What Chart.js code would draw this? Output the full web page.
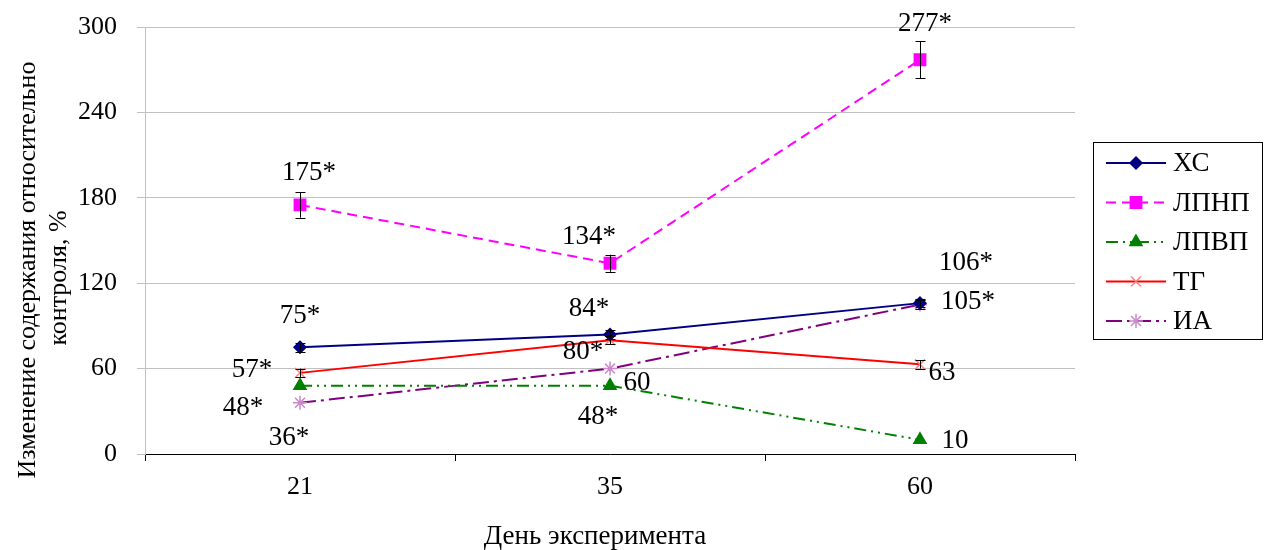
<!DOCTYPE html>
<html lang="ru">
<head>
<meta charset="UTF-8">
<title>Изменение содержания относительно контроля</title>
<script src="https://cdn.jsdelivr.net/npm/chart.js@4/dist/chart.umd.min.js"></script>
<style>
*{margin:0;padding:0}
body{background:#fff;width:1267px;height:550px;overflow:hidden}
</style>
</head>
<body>
<canvas id="c" width="1267" height="550"></canvas>
<script>
// data
var days = ["21", "35", "60"];
var yTicks = [0, 60, 120, 180, 240, 300];

var xc = [75, 84, 106];        // ХС
var ldl = [175, 134, 277];     // ЛПНП
var hdl = [48, 48, 10];        // ЛПВП
var tg = [57, 80, 63];         // ТГ
var ia = [36, 60, 105];        // ИА

var xcErr = [3, 3, 3];
var ldlErr = [9, 6, 13];
var hdlErr = [0, 0, 0];
var tgErr = [3, 3, 3];
var iaErr = [0, 0, 3];

var xcLabels = ["75*", "84*", "106*"];
var ldlLabels = ["175*", "134*", "277*"];
var hdlLabels = ["48*", "48*", "10"];
var tgLabels = ["57*", "80*", "63"];
var iaLabels = ["36*", "60", "105*"];

// label placement relative to the marker, px
var xcOff = [[0,-31],[-21,-26],[46,-40]];
var ldlOff = [[9,-32],[-21,-26],[5,-36]];
var hdlOff = [[-57,22],[-12,31],[35,1]];
var tgOff = [[-48,-3],[-27,12],[22,9]];
var iaOff = [[-11,35],[27,14],[48,-3]];

var FONT = "Liberation Serif, Times New Roman, serif";

function ds(label, data, color, dash, style, radius, ptColor, err, txt, off) {
  return {
    label: label, data: data, borderColor: color, borderWidth: 2, borderDash: dash,
    pointStyle: style, pointRadius: radius, pointBackgroundColor: ptColor,
    pointBorderColor: ptColor, pointBorderWidth: 1.5, tension: 0,
    errs: err, txt: txt, off: off
  };
}

var sets = [
  ds("ХС", xc, "#000080", [], "rectRot", 6, "#000080", xcErr, xcLabels, xcOff),
  ds("ЛПНП", ldl, "#FF00FF", [10, 6], "rect", 8, "#FF00FF", ldlErr, ldlLabels, ldlOff),
  ds("ЛПВП", hdl, "#008000", [12, 5, 2, 5, 2, 5], "triangle", 7, "#008000", hdlErr, hdlLabels, hdlOff),
  ds("ТГ", tg, "#FF0000", [], "crossRot", 7, "#FF8080", tgErr, tgLabels, tgOff),
  ds("ИА", ia, "#800080", [16, 5, 3, 5], "star", 7, "#CC88CC", iaErr, iaLabels, iaOff)
];

var extras = {
  id: "extras",
  afterDatasetsDraw: function(chart) {
    var ctx = chart.ctx, ys = chart.scales.y;
    ctx.save();
    // error bars
    ctx.strokeStyle = "#000";
    ctx.lineWidth = 1;
    chart.data.datasets.forEach(function(d, i) {
      chart.getDatasetMeta(i).data.forEach(function(p, j) {
        var e = d.errs[j];
        if (!e) return;
        var y1 = ys.getPixelForValue(d.data[j] + e), y2 = ys.getPixelForValue(d.data[j] - e);
        var x = Math.round(p.x) + 0.5;
        ctx.beginPath();
        ctx.moveTo(x, y1); ctx.lineTo(x, y2);
        ctx.moveTo(x - 5, Math.round(y1) + 0.5); ctx.lineTo(x + 5, Math.round(y1) + 0.5);
        ctx.moveTo(x - 5, Math.round(y2) + 0.5); ctx.lineTo(x + 5, Math.round(y2) + 0.5);
        ctx.stroke();
      });
    });
    // value labels
    ctx.fillStyle = "#000";
    ctx.font = "27px " + FONT;
    ctx.textAlign = "center";
    ctx.textBaseline = "middle";
    chart.data.datasets.forEach(function(d, i) {
      chart.getDatasetMeta(i).data.forEach(function(p, j) {
        ctx.fillText(d.txt[j], p.x + d.off[j][0], p.y + d.off[j][1]);
      });
    });
    // axis titles
    ctx.fillText("День эксперимента", 595, 537);
    ctx.font = "26px " + FONT;
    ctx.save();
    ctx.translate(28, 270);
    ctx.rotate(-Math.PI / 2);
    ctx.fillText("Изменение содержания относительно", 0, 0);
    ctx.restore();
    ctx.save();
    ctx.translate(59, 278);
    ctx.rotate(-Math.PI / 2);
    ctx.fillText("контроля, %", 0, 0);
    ctx.restore();
    // legend
    ctx.font = "27px " + FONT;
    ctx.strokeStyle = "#000";
    ctx.lineWidth = 1;
    ctx.strokeRect(1093.5, 142.5, 169, 197);
    ctx.textAlign = "left";
    chart.data.datasets.forEach(function(d, i) {
      var y = 163 + i * 39.5;
      ctx.strokeStyle = d.borderColor;
      ctx.lineWidth = 2;
      ctx.setLineDash(d.borderDash);
      ctx.beginPath();
      ctx.moveTo(1106, y); ctx.lineTo(1166, y);
      ctx.stroke();
      ctx.setLineDash([]);
      ctx.fillStyle = d.pointBackgroundColor;
      ctx.strokeStyle = d.pointBorderColor;
      ctx.lineWidth = 1.5;
      Chart.helpers.drawPoint(ctx, {pointStyle: d.pointStyle, radius: d.pointRadius, rotation: 0, borderWidth: 1.5}, 1136, y);
      ctx.fillStyle = "#000";
      ctx.fillText(d.label, 1173, y + 1);
    });
    ctx.restore();
  }
};

new Chart(document.getElementById("c"), {
  type: "line",
  data: { labels: days, datasets: sets },
  plugins: [extras],
  options: {
    responsive: false,
    devicePixelRatio: 1,
    animation: false,
    layout: { padding: { left: 0, top: 27, right: 192, bottom: 0 }, autoPadding: false },
    plugins: { legend: { display: false }, tooltip: { enabled: false } },
    scales: {
      x: {
        type: "category",
        offset: true,
        afterFit: function(s) { s.height = 96; s.paddingLeft = 0; s.paddingRight = 0; },
        grid: { offset: true, drawOnChartArea: false, drawTicks: true, tickLength: 7, color: "#000" },
        border: { display: true, color: "#000", width: 1 },
        ticks: { color: "#000", font: { family: FONT, size: 26 }, padding: 11, maxRotation: 0 }
      },
      y: {
        min: 0, max: 300,
        afterFit: function(s) { s.width = 145; s.paddingTop = 0; s.paddingBottom = 0; },
        afterBuildTicks: function(s) { s.ticks = yTicks.map(function(v) { return { value: v }; }); },
        grid: { color: "#C0C0C0", tickLength: 8, drawTicks: true },
        border: { display: true, color: "#C0C0C0", width: 1 },
        ticks: { color: "#000", font: { family: FONT, size: 26 }, padding: 20 }
      }
    }
  }
});
</script>
</body>
</html>
